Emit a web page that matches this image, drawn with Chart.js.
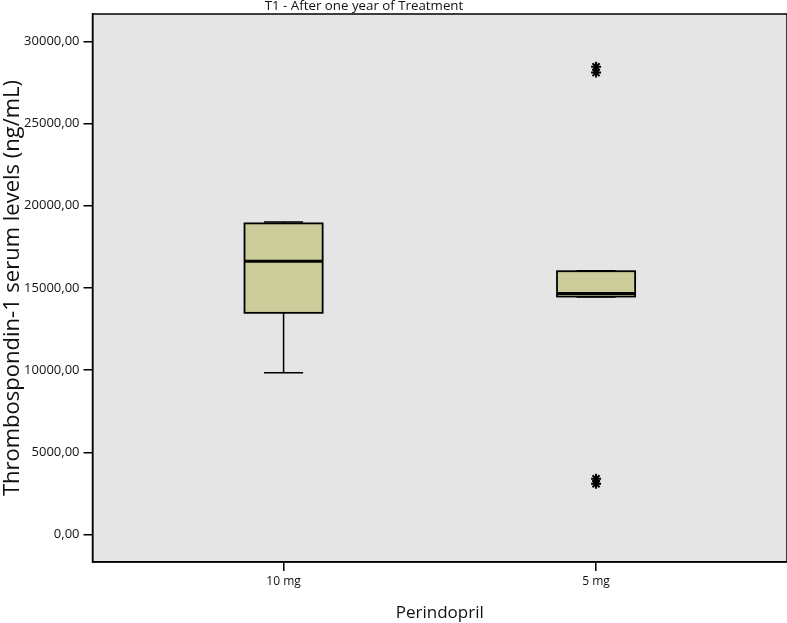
<!DOCTYPE html>
<html>
<head>
<meta charset="utf-8">
<script src="https://cdn.jsdelivr.net/npm/chart.js@4"></script>
<style>
  html, body { margin: 0; padding: 0; background: #fff; overflow: hidden; }
  #wrap { width: 794px; height: 623px; position: relative; }
  canvas { display: block; }
</style>
</head>
<body>
<div id="wrap"><canvas id="boxplot"></canvas></div>
<script>
// data
const categories = ['10 mg', '5 mg'];
const whiskerLow = [9850, 14450];
const q1 = [13490, 14480];
const median = [16620, 14670];
const q3 = [18930, 16020];
const whiskerHigh = [19010, 16050];
// extreme values (asterisks), per category
const extremes = [[], [28450, 28100, 3400, 3100]];
const yTicks = [0, 5000, 10000, 15000, 20000, 25000, 30000];

const chartTitle = 'T1 - After one year of Treatment';
const boxColor = '#cdcd9b';
const BOX_HALF = 0.125; // box half width, in category units

const outlierPoints = [];
extremes.forEach((vals, i) => vals.forEach(v => outlierPoints.push({ x: i, y: v })));

const boxPlugin = {
    id: 'boxes',
    beforeDraw(chart) {
        const { ctx, chartArea: a } = chart;
        ctx.save();
        ctx.fillStyle = '#e5e5e5';
        ctx.fillRect(a.left, a.top, a.right - a.left, a.bottom - a.top);
        ctx.restore();
    },
    afterDatasetsDraw(chart) {
        const { ctx, scales: { x, y } } = chart;
        ctx.save();
        ctx.strokeStyle = '#000';
        categories.forEach((c, i) => {
            const xc = x.getPixelForValue(i);
            const xl = x.getPixelForValue(i - BOX_HALF);
            const xr = x.getPixelForValue(i + BOX_HALF);
            const capL = x.getPixelForValue(i - BOX_HALF / 2);
            const capR = x.getPixelForValue(i + BOX_HALF / 2);
            const yq1 = y.getPixelForValue(q1[i]);
            const yq3 = y.getPixelForValue(q3[i]);
            const ylo = y.getPixelForValue(whiskerLow[i]);
            const yhi = y.getPixelForValue(whiskerHigh[i]);
            const ymed = y.getPixelForValue(median[i]);

            ctx.lineWidth = 1.5;
            // whiskers
            ctx.beginPath();
            ctx.moveTo(xc, yq1); ctx.lineTo(xc, ylo);
            ctx.moveTo(xc, yq3); ctx.lineTo(xc, yhi);
            ctx.moveTo(capL, ylo); ctx.lineTo(capR, ylo);
            ctx.moveTo(capL, yhi); ctx.lineTo(capR, yhi);
            ctx.stroke();
            // box
            ctx.fillStyle = boxColor;
            ctx.fillRect(xl, yq3, xr - xl, yq1 - yq3);
            ctx.lineWidth = 1.8;
            ctx.strokeRect(xl, yq3, xr - xl, yq1 - yq3);
            // median
            ctx.lineWidth = 3;
            ctx.beginPath();
            ctx.moveTo(xl, ymed); ctx.lineTo(xr, ymed);
            ctx.stroke();
        });
        ctx.restore();
    },
    afterDraw(chart) {
        const { ctx, chartArea: a } = chart;
        ctx.save();
        ctx.strokeStyle = '#000';
        ctx.lineWidth = 1.5;
        ctx.strokeRect(a.left, a.top, a.right - a.left, a.bottom - a.top);
        ctx.fillStyle = '#111';
        ctx.font = '13.3px "Open Sans"';
        ctx.textAlign = 'center';
        ctx.textBaseline = 'alphabetic';
        ctx.fillText(chartTitle, 364, 10);
        ctx.restore();
    }
};

new Chart(document.getElementById('boxplot'), {
    type: 'scatter',
    data: {
        datasets: [{
            label: 'Extremes',
            data: outlierPoints,
            pointStyle: 'star',
            radius: 5,
            borderWidth: 2,
            borderColor: '#000',
            backgroundColor: '#000'
        }]
    },
    options: {
        responsive: true,
        maintainAspectRatio: false,
        animation: false,
        layout: { padding: { top: 14, right: 1, left: 0, bottom: 0 } },
        plugins: { legend: { display: false }, tooltip: { enabled: false } },
        scales: {
            x: {
                type: 'linear',
                min: -0.6115,
                max: 1.611,
                afterBuildTicks: s => { s.ticks = categories.map((c, i) => ({ value: i })); },
                afterFit: s => { s.height = 61; },
                ticks: {
                    callback: v => categories[v],
                    color: '#111',
                    font: { family: 'Open Sans', size: 12 },
                    padding: 3
                },
                grid: { drawOnChartArea: false, tickLength: 9, color: '#000', lineWidth: 1.5 },
                border: { color: '#000', width: 1.5 },
                title: {
                    display: true,
                    text: 'Perindopril',
                    color: '#111',
                    font: { family: 'Open Sans', size: 17 },
                    padding: 0
                }
            },
            y: {
                min: -1663,
                max: 31663,
                afterBuildTicks: s => { s.ticks = yTicks.map(v => ({ value: v })); },
                afterFit: s => { s.width = 92.5; },
                ticks: {
                    callback: v => v.toFixed(2).replace('.', ','),
                    color: '#111',
                    font: { family: 'Open Sans', size: 13 },
                    padding: 4
                },
                grid: { drawOnChartArea: false, tickLength: 9, color: '#000', lineWidth: 1.5 },
                border: { color: '#000', width: 1.5 },
                title: {
                    display: true,
                    text: 'Thrombospondin-1 serum levels (ng/mL)',
                    color: '#111',
                    font: { family: 'Open Sans', size: 22 },
                    padding: 0
                }
            }
        }
    },
    plugins: [boxPlugin]
});
</script>
</body>
</html>
